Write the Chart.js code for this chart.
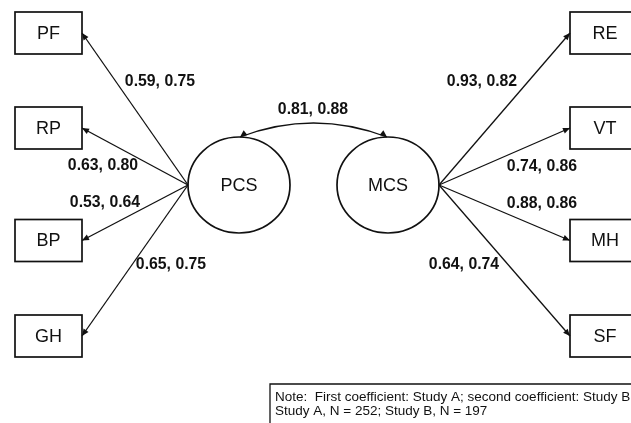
<!DOCTYPE html>
<html><head><meta charset="utf-8">
<script src="https://cdn.jsdelivr.net/npm/chart.js@4/dist/chart.umd.min.js"></script>
<style>html,body{margin:0;padding:0;background:#fff}canvas{display:block}</style>
</head><body>
<canvas id="c" width="631" height="423"></canvas>
<script>
// ---- data ----
const factors = ['PCS', 'MCS'];
const pcsIndicators = ['PF', 'RP', 'BP', 'GH'];
const mcsIndicators = ['RE', 'VT', 'MH', 'SF'];
const pcsLoadingsA = [0.59, 0.63, 0.53, 0.65];
const pcsLoadingsB = [0.75, 0.80, 0.64, 0.75];
const mcsLoadingsA = [0.93, 0.74, 0.88, 0.64];
const mcsLoadingsB = [0.82, 0.86, 0.86, 0.74];
const factorCorrelation = [0.81, 0.88];
const noteLines = [
  'Note:  First coefficient: Study A; second coefficient: Study B',
  'Study A, N = 252; Study B, N = 197'
];

// ---- layout (diagram units, mapped through the chart scales) ----
const layout = {
  rowY: [33, 128, 240.5, 336],
  leftBox: [15, 82],
  rightBox: [570, 640],
  boxH: 42,
  factorCenter: [[239, 185], [388, 185]],
  factorR: [51, 48],
  pcsLabel: [[160, 81], [103, 165], [105, 202], [171, 264]],
  mcsLabel: [[482, 81], [542, 166], [542, 203], [464, 264]],
  corrStart: [240, 137], corrEnd: [387, 137], corrCtrl: [313.5, 109], corrLabel: [313, 109],
  note: [270, 384], noteText: [275, 397], noteLineH: 14
};

const fmt = (a, b) => a.toFixed(2) + ', ' + b.toFixed(2);

// arrow datasets: factor edge -> indicator box edge
const datasets = [];
pcsIndicators.forEach((n, i) => {
  const c = layout.factorCenter[0];
  datasets.push({ label: 'PCS-' + n, data: [{ x: c[0] - layout.factorR[0], y: c[1] }, { x: layout.leftBox[1], y: layout.rowY[i] }] });
});
mcsIndicators.forEach((n, i) => {
  const c = layout.factorCenter[1];
  datasets.push({ label: 'MCS-' + n, data: [{ x: c[0] + layout.factorR[0], y: c[1] }, { x: layout.rightBox[0], y: layout.rowY[i] }] });
});
datasets.forEach(d => Object.assign(d, { showLine: true, borderColor: '#111', borderWidth: 1.3, pointRadius: 0, fill: false }));

const FONT = '"Liberation Sans", Arial, Helvetica, sans-serif';

function head(ctx, fx, fy, tx, ty, len = 7, w = 3) {
  const a = Math.atan2(ty - fy, tx - fx);
  ctx.beginPath();
  ctx.moveTo(tx, ty);
  ctx.lineTo(tx - len * Math.cos(a) + w * Math.sin(a), ty - len * Math.sin(a) - w * Math.cos(a));
  ctx.lineTo(tx - len * Math.cos(a) - w * Math.sin(a), ty - len * Math.sin(a) + w * Math.cos(a));
  ctx.closePath();
  ctx.fill();
}

const diagram = {
  id: 'diagram',
  afterDatasetsDraw(chart) {
    const ctx = chart.ctx, X = chart.scales.x, Y = chart.scales.y;
    const px = v => X.getPixelForValue(v), py = v => Y.getPixelForValue(v);
    ctx.save();
    ctx.fillStyle = '#111';
    ctx.strokeStyle = '#111';
    // arrowheads
    chart.data.datasets.forEach(d => {
      const p0 = d.data[0], p1 = d.data[1];
      head(ctx, px(p0.x), py(p0.y), px(p1.x), py(p1.y));
    });
    // boxes
    ctx.lineWidth = 1.7;
    const boxes = [[layout.leftBox, pcsIndicators], [layout.rightBox, mcsIndicators]];
    ctx.font = '18px ' + FONT;
    ctx.textAlign = 'center'; ctx.textBaseline = 'middle';
    boxes.forEach(([bx, names]) => {
      names.forEach((n, i) => {
        const y0 = py(layout.rowY[i] - layout.boxH / 2), y1 = py(layout.rowY[i] + layout.boxH / 2);
        const x0 = px(bx[0]), x1 = px(bx[1]);
        ctx.strokeRect(x0, y0, x1 - x0, y1 - y0);
        ctx.fillText(n, (x0 + x1) / 2, (y0 + y1) / 2 + 1);
      });
    });
    // factors
    factors.forEach((f, i) => {
      const c = layout.factorCenter[i];
      ctx.beginPath();
      ctx.ellipse(px(c[0]), py(c[1]), Math.abs(px(c[0] + layout.factorR[0]) - px(c[0])), Math.abs(py(c[1] + layout.factorR[1]) - py(c[1])), 0, 0, Math.PI * 2);
      ctx.stroke();
      ctx.fillText(f, px(c[0]), py(c[1]) + 1);
    });
    // correlation curve
    ctx.lineWidth = 1.3;
    const s = layout.corrStart, e = layout.corrEnd, k = layout.corrCtrl;
    ctx.beginPath();
    ctx.moveTo(px(s[0]), py(s[1]));
    ctx.quadraticCurveTo(px(k[0]), py(k[1]), px(e[0]), py(e[1]));
    ctx.stroke();
    head(ctx, px(k[0] - 25), py(k[1] - 10), px(s[0]), py(s[1]));
    head(ctx, px(k[0] + 25), py(k[1] - 10), px(e[0]), py(e[1]));
    // loadings
    ctx.font = 'bold 15.8px ' + FONT;
    pcsIndicators.forEach((n, i) => {
      const p = layout.pcsLabel[i];
      ctx.fillText(fmt(pcsLoadingsA[i], pcsLoadingsB[i]), px(p[0]), py(p[1]) + 1);
    });
    mcsIndicators.forEach((n, i) => {
      const p = layout.mcsLabel[i];
      ctx.fillText(fmt(mcsLoadingsA[i], mcsLoadingsB[i]), px(p[0]), py(p[1]) + 1);
    });
    ctx.fillText(fmt(factorCorrelation[0], factorCorrelation[1]), px(layout.corrLabel[0]), py(layout.corrLabel[1]) + 1);
    // note box
    ctx.lineWidth = 1.3;
    ctx.beginPath();
    ctx.moveTo(px(layout.note[0]), py(440));
    ctx.lineTo(px(layout.note[0]), py(layout.note[1]));
    ctx.lineTo(px(640), py(layout.note[1]));
    ctx.stroke();
    ctx.font = '13.5px ' + FONT;
    ctx.textAlign = 'left';
    noteLines.forEach((t, i) => {
      ctx.fillText(t, px(layout.noteText[0]), py(layout.noteText[1] + i * layout.noteLineH));
    });
    ctx.restore();
  }
};

new Chart(document.getElementById('c'), {
  type: 'scatter',
  data: { datasets },
  options: {
    responsive: false,
    animation: false,
    layout: { padding: 0 },
    plugins: { legend: { display: false }, tooltip: { enabled: false } },
    scales: {
      x: { type: 'linear', min: 0, max: 631, display: false },
      y: { type: 'linear', min: 0, max: 423, reverse: true, display: false }
    }
  },
  plugins: [diagram]
});
</script>
</body></html>
